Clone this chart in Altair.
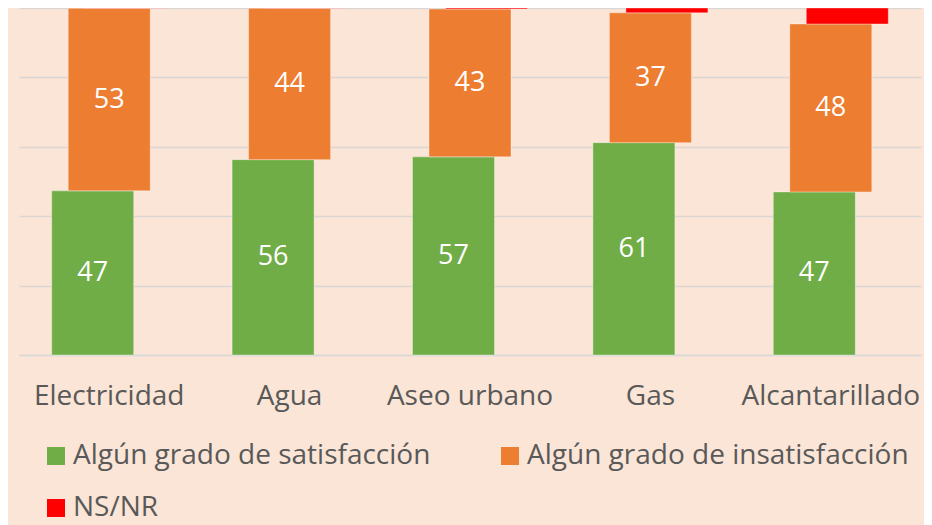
import altair as alt
import pandas as pd

categories = ["Electricidad", "Agua", "Aseo urbano", "Gas", "Alcantarillado"]
series = ["Algún grado de satisfacción", "Algún grado de insatisfacción", "NS/NR"]
satisfaccion = [47.3, 56.3, 57.1, 61.2, 47.0]
insatisfaccion = [52.6, 43.6, 42.6, 37.4, 48.4]
nsnr = [0.1, 0.1, 0.3, 1.4, 4.6]
colors = ["#70AD47", "#ED7D31", "#FF0000"]
offsets = [-16.5, 0, 16.5]

FONT = "Open Sans"
GREY = "#595959"

rows = []
for i, c in enumerate(categories):
    for k, vals in enumerate([satisfaccion, insatisfaccion, nsnr]):
        rows.append({"categoria": c, "serie": series[k], "valor": vals[i], "orden": k})
df = pd.DataFrame(rows)

base = alt.Chart(df).transform_stack(
    stack="valor",
    groupby=["categoria"],
    as_=["y0", "y1"],
    sort=[alt.SortField("orden", order="ascending")],
).transform_calculate(ymid="(datum.y0 + datum.y1) / 2")

x_enc = alt.X(
    "categoria:N",
    sort=categories,
    scale=alt.Scale(paddingInner=0, paddingOuter=0),
    axis=alt.Axis(
        title=None,
        labelAngle=0,
        labelFont=FONT,
        labelFontSize=28,
        labelColor=GREY,
        labelPadding=27,
        ticks=False,
        domainColor="#D9D9D9",
        domainWidth=1.5,
        grid=False,
    ),
)

y_scale = alt.Scale(domain=[0, 100], nice=False)
y_axis = alt.Axis(
    title=None,
    values=[0, 20, 40, 60, 80, 100],
    labels=False,
    ticks=False,
    domain=False,
    grid=True,
    gridColor="#DAD6D3",
    gridWidth=1.5,
)

color_enc = alt.Color(
    "serie:N",
    scale=alt.Scale(domain=series, range=colors),
    legend=alt.Legend(
        title=None,
        orient="none",
        legendX=23,
        legendY=434,
        direction="horizontal",
        columns=2,
        columnPadding=65,
        rowPadding=24,
        symbolType="square",
        symbolSize=324,
        symbolStrokeWidth=0,
        labelFont=FONT,
        labelFontSize=28,
        labelColor=GREY,
        labelOffset=3,
        labelLimit=600,
        padding=0,
    ),
)

layers = []
for k in range(3):
    layers.append(
        base.transform_filter(alt.datum.orden == k)
        .mark_bar(xOffset=offsets[k], size=82, stroke="#FFFFFF", strokeOpacity=0.35, strokeWidth=1)
        .encode(
            x=x_enc,
            y=alt.Y("y0:Q", scale=y_scale, axis=y_axis),
            y2="y1:Q",
            color=color_enc,
        )
    )
for k in range(2):
    layers.append(
        base.transform_filter(alt.datum.orden == k)
        .mark_text(xOffset=offsets[k], color="white", font=FONT, fontSize=27, baseline="middle", align="center")
        .encode(
            x=alt.X("categoria:N", sort=categories),
            y=alt.Y("ymid:Q", scale=y_scale),
            text=alt.Text("valor:Q", format=".0f"),
        )
    )

chart = (
    alt.layer(*layers)
    .properties(
        width=902,
        height=347,
        background="#FBE5D6",
        autosize=alt.AutoSizeParams(type="none"),
        padding={"left": 11, "top": 0, "right": 3, "bottom": 170},
    )
    .configure_view(stroke=None)
)

chart.save("out.html", embed_options={"renderer": "svg", "actions": False})
